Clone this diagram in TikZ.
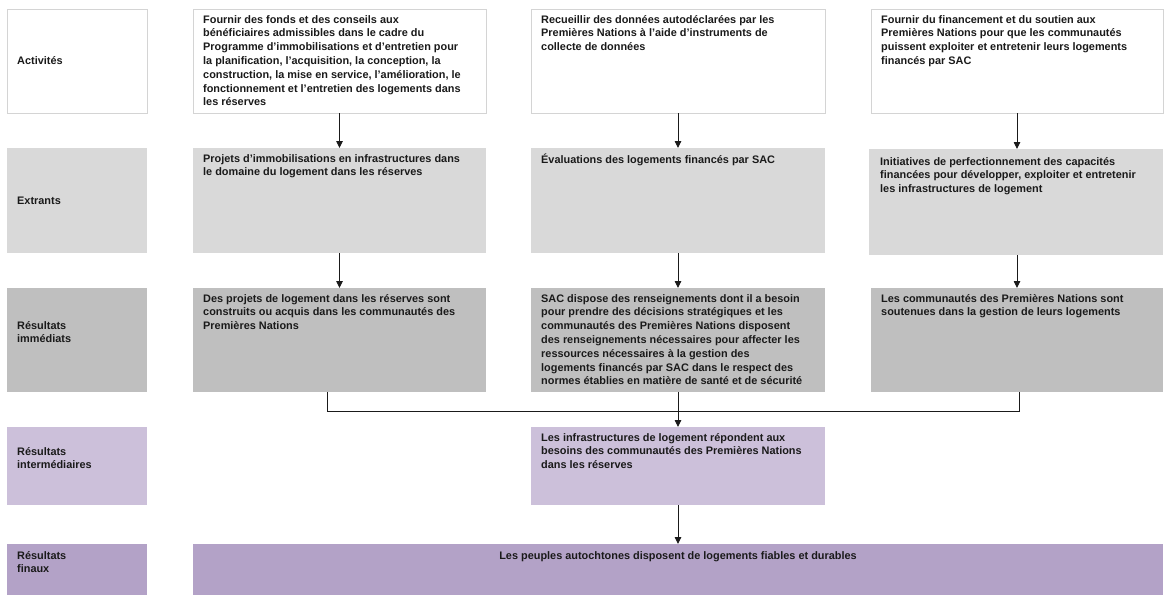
\documentclass[tikz,border=0pt]{standalone}
\usepackage{fontspec}
\setmainfont{Liberation Sans}
\usetikzlibrary{arrows.meta}
\definecolor{rowone}{HTML}{FFFFFF}
\definecolor{bordgrey}{HTML}{D4D4D4}
\definecolor{rowtwo}{HTML}{D9D9D9}
\definecolor{rowthree}{HTML}{BFBFBF}
\definecolor{rowfour}{HTML}{CCC0DA}
\definecolor{rowfive}{HTML}{B3A2C7}
\definecolor{inkc}{HTML}{1A1A1A}
\newcommand\rbox[7]{%
  \node[#2, minimum width=#5pt, minimum height=#6pt] (#1) at (#3,#4) {};
  \node[txt] (#1t) at ([xshift=10pt,yshift=-6pt]#1.north west) {#7};
}
\newcommand\lbox[6]{%
  \node[#2, minimum width=140pt, minimum height=#5pt] (#1) at (7,#3) {};
  \node[txt, anchor=west] (#1t) at (17,#4) {#6};
}
\tikzset{
  basebox/.style={rectangle, anchor=north west, inner sep=0pt, outer sep=0pt},
  whitebox/.style={basebox, fill=white, draw=bordgrey, line width=0.8pt},
  greybox/.style={basebox, fill=rowtwo},
  darkbox/.style={basebox, fill=rowthree},
  lilacbox/.style={basebox, fill=rowfour},
  purplebox/.style={basebox, fill=rowfive},
  txt/.style={anchor=north west, inner sep=0pt, align=left, text=inkc,
    font=\fontsize{10.9}{13.8}\selectfont\bfseries},
  conn/.style={draw=inkc, line width=0.9pt},
  arr/.style={conn, -{Triangle[width=6.5pt,length=7pt]}},
}
\begin{document}
\begin{tikzpicture}[x=1pt,y=-1pt]
\useasboundingbox (0,0) rectangle (1170,602);
\fill[white] (0,0) rectangle (1170,602);

% labels
\lbox{l1}{whitebox}{9}{61}{104}{Activités}
\lbox{l2}{greybox}{148}{201}{105}{Extrants}
\lbox{l3}{darkbox}{288}{332}{104}{Résultats\\immédiats}
\lbox{l4}{lilacbox}{427}{458}{78}{Résultats\\intermédiaires}
\lbox{l5}{purplebox}{544}{562}{51}{Résultats\\finaux}

% row 1
\rbox{a1}{whitebox}{193}{9}{293}{104}{Fournir des fonds et des conseils aux\\bénéficiaires admissibles dans le cadre du\\Programme d’immobilisations et d’entretien pour\\la planification, l’acquisition, la conception, la\\construction, la mise en service, l’amélioration, le\\fonctionnement et l’entretien des logements dans\\les réserves}
\rbox{b1}{whitebox}{531}{9}{294}{104}{Recueillir des données autodéclarées par les\\Premières Nations à l’aide d’instruments de\\collecte de données}
\rbox{c1}{whitebox}{871}{9}{292}{104}{Fournir du financement et du soutien aux\\Premières Nations pour que les communautés\\puissent exploiter et entretenir leurs logements\\financés par SAC}

% row 2
\rbox{a2}{greybox}{193}{148}{293}{105}{Projets d’immobilisations en infrastructures dans\\le domaine du logement dans les réserves}
\rbox{b2}{greybox}{531}{148}{294}{105}{Évaluations des logements financés par SAC}
\node[greybox, minimum width=294pt, minimum height=106pt] (c2) at (869,149) {};
\node[txt] (c2t) at ([xshift=11pt,yshift=-8pt]c2.north west) {Initiatives de perfectionnement des capacités\\financées pour développer, exploiter et entretenir\\les infrastructures de logement};

% row 3
\rbox{a3}{darkbox}{193}{288}{293}{104}{Des projets de logement dans les réserves sont\\construits ou acquis dans les communautés des\\Premières Nations}
\rbox{b3}{darkbox}{531}{288}{294}{104}{SAC dispose des renseignements dont il a besoin\\pour prendre des décisions stratégiques et les\\communautés des Premières Nations disposent\\des renseignements nécessaires pour affecter les\\ressources nécessaires à la gestion des\\logements financés par SAC dans le respect des\\normes établies en matière de santé et de sécurité}
\rbox{c3}{darkbox}{871}{288}{292}{104}{Les communautés des Premières Nations sont\\soutenues dans la gestion de leurs logements}

% row 4
\rbox{b4}{lilacbox}{531}{427}{294}{78}{Les infrastructures de logement répondent aux\\besoins des communautés des Premières Nations\\dans les réserves}

% row 5
\node[purplebox, minimum width=970pt, minimum height=51pt] (e5) at (193,544) {};
\node[txt, anchor=north] (e5t) at ([yshift=-7pt]e5.north) {Les peuples autochtones disposent de logements fiables et durables};

% connectors
\draw[arr] (a1.south) -- (a2.north);
\draw[arr] (b1.south) -- (b2.north);
\draw[arr] (c1.south) -- (c2.north -| c1.south);
\draw[arr] (a2.south) -- (a3.north);
\draw[arr] (b2.south) -- (b3.north);
\draw[arr] (c2.south -| c3.north) -- (c3.north);
\coordinate (jl) at (327,411);
\coordinate (jr) at (1019,411);
\draw[conn] (a3.south -| jl) -- (jl) -- (jr) -- (c3.south -| jr);
\draw[arr] (b3.south) -- (b4.north);
\draw[arr] (b4.south) -- (b4.south |- e5.north);
\end{tikzpicture}
\end{document}
